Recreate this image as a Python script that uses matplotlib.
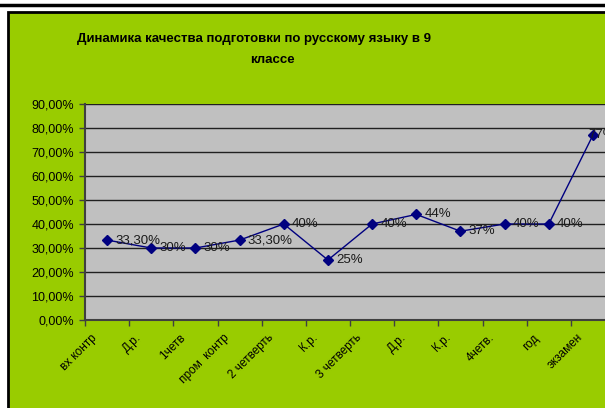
import matplotlib
matplotlib.use("Agg")
import matplotlib.pyplot as plt
import matplotlib.patches as patches
from matplotlib.lines import Line2D
from matplotlib.transforms import ScaledTranslation

plt.rcParams['font.family'] = ['Liberation Sans', 'DejaVu Sans']

categories = ['вх контр', 'Д.р.', '1четв', 'пром  контр', '2 четверть', 'К.р.',
              '3 четверть', 'Д.р.', 'К.р.', '4четв.', 'год', 'экзамен']
values = [0.333, 0.30, 0.30, 0.333, 0.40, 0.25, 0.40, 0.44, 0.37, 0.40, 0.40, 0.77]
point_labels = ['33,30%', '30%', '30%', '33,30%', '40%', '25%', '40%', '44%',
                '37%', '40%', '40%', '77%']
yticks = [i / 10 for i in range(10)]
ytick_labels = ['%d,00%%' % (i * 10) for i in range(10)]

W, H = 605, 408
fig = plt.figure(figsize=(W / 100, H / 100), dpi=100)
fig.patch.set_facecolor('white')

# green chart area with black frame, plus black line on top
green = patches.Rectangle((8 / W, -0.01), 1.0, (H - 12) / H + 0.01,
                          transform=fig.transFigure, facecolor='#99CC00',
                          edgecolor='black', linewidth=2, zorder=-5)
fig.patches.append(green)
fig.lines.append(Line2D([0, 1], [1 - 5 / H, 1 - 5 / H], transform=fig.transFigure,
                        color='black', linewidth=2.5, zorder=-4))

fig.text(254 / W, 1 - 39 / H, 'Динамика качества подготовки по русскому языку в 9',
         ha='center', va='center', fontsize=9.5, fontweight='bold')
fig.text(272 / W, 1 - 60 / H, 'классе', ha='center', va='center',
         fontsize=9.5, fontweight='bold')

left, right, top, bottom = 85, 615, 104, 320
ax = fig.add_axes([left / W, 1 - bottom / H, (right - left) / W, (bottom - top) / H])
ax.set_zorder(2)
ax.set_facecolor('#C0C0C0')

x = [i + 0.5 for i in range(len(values))]
ax.plot(x, values, color='#000080', linewidth=1, marker='D', markersize=5,
        zorder=3, clip_on=False)
for i, (xi, v, lab) in enumerate(zip(x, values, point_labels)):
    dx = -3.5 if i == len(values) - 1 else 6
    ax.annotate(lab, (xi, v), xytext=(dx, 0), textcoords='offset points',
                ha='left', va='center', fontsize=9.5, color='#1a1a1a')

ax.set_xlim(0, len(values))
ax.set_ylim(0, 0.9)
ax.set_yticks(yticks)
ax.set_yticklabels(ytick_labels, fontsize=9)
ax.set_xticks(range(len(values) + 1))
ax.set_xticklabels([])

# rotated category labels, anchored left of and below each category centre
lbl_tr = ax.get_xaxis_transform() + ScaledTranslation(-12 / 100, -16 / 100,
                                                      fig.dpi_scale_trans)
for xi, cat in zip(x, categories):
    ax.text(xi, 0, cat, transform=lbl_tr, rotation=45, ha='right', va='center',
            rotation_mode='anchor', fontsize=8.5, clip_on=False)

ax.tick_params(axis='x', which='major', length=4, width=1, color='#404040',
               direction='out')
ax.tick_params(axis='y', length=4, width=1, color='#404040', direction='out', pad=4)
ax.yaxis.grid(True, color='#202020', linewidth=1)
ax.set_axisbelow(True)
for s in ['top', 'right']:
    ax.spines[s].set_visible(False)
for s in ['left', 'bottom']:
    ax.spines[s].set_color('#404040')
    ax.spines[s].set_linewidth(1.5)

fig.savefig('out.png', dpi=100)
